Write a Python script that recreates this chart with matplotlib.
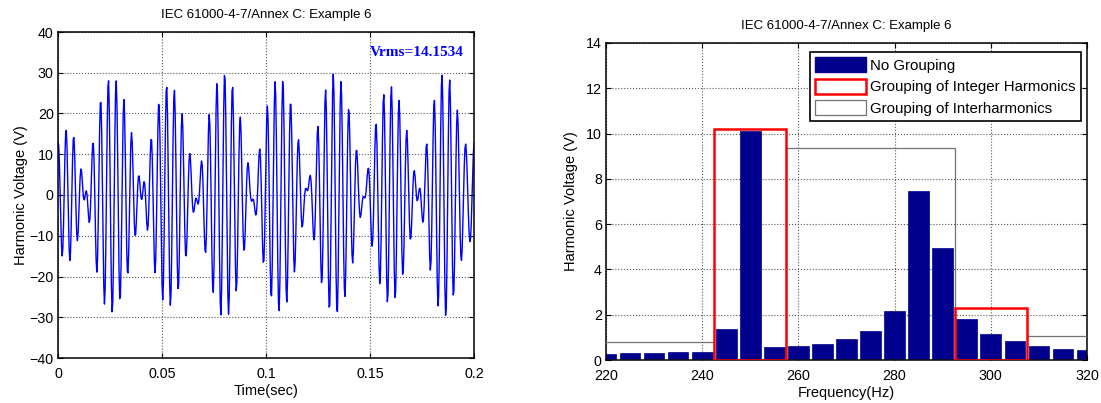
import numpy as np
import matplotlib
matplotlib.use("Agg")
import matplotlib.pyplot as plt
from matplotlib.patches import Rectangle, Patch

# Spectrum of the test signal (5 Hz bins, rms volts)
freq_hz = [220, 225, 230, 235, 240, 245, 250, 255, 260, 265, 270,
           275, 280, 285, 290, 295, 300, 305, 310, 315, 320]
v_rms = [0.25, 0.31, 0.31, 0.37, 0.36, 1.38, 10.11, 0.56, 0.60, 0.71, 0.91,
         1.30, 2.18, 7.46, 4.96, 1.81, 1.13, 0.82, 0.60, 0.50, 0.46]
# Phase of each spectral line (degrees)
phase_deg = [162, 162, 162, 162, 162, 162, 342, 342, 342, 342, 72,
             72, 72, 72, 252, 252, 252, 252, 252, 252, 252]

# Harmonic subgroups (centre frequency, rms value)
harm_center = [250, 300]
harm_value = [10.21, 2.28]
# Interharmonic centred subgroups (lower edge, upper edge, rms value)
ih_low = [207.5, 257.5, 307.5]
ih_high = [242.5, 292.5, 342.5]
ih_value = [0.78, 9.38, 1.07]

vrms_text = "Vrms=14.1534"
title = "IEC 61000-4-7/Annex C: Example 6"

plt.rcParams['font.family'] = ['Liberation Sans', 'DejaVu Sans']
plt.rcParams['font.size'] = 10

W, H = 1101, 403
fig = plt.figure(figsize=(W / 100, H / 100), dpi=100)

def px_axes(l, t, r, b):
    return fig.add_axes([l / W, 1 - b / H, (r - l) / W, (b - t) / H])

def matlab_style(ax):
    ax.tick_params(direction='in', top=True, right=True, length=3.5,
                   width=0.8, labelsize=10.3)
    ax.tick_params(axis='x', pad=6.5)
    ax.tick_params(axis='y', pad=3)
    for s in ax.spines.values():
        s.set_linewidth(1.1)
    ax.grid(True, linestyle=':', color='0.35', linewidth=0.8)
    ax.set_axisbelow(True)

# ---- time-domain waveform synthesised from the spectral lines ----
ax1 = px_axes(58, 32, 474, 358)
fs = 3000.0
t = np.arange(0, 0.2 + 1e-9, 1 / fs)
f = np.asarray(freq_hz, float)[:, None]
amp = np.sqrt(2) * np.asarray(v_rms, float)[:, None]
ph = np.deg2rad(np.asarray(phase_deg, float))[:, None]
u = (amp * np.cos(2 * np.pi * f * t[None, :] + ph)).sum(axis=0)
ax1.plot(t, u, color='#0000FF', linewidth=1.0)
ax1.set_xlim(0, 0.2)
ax1.set_ylim(-40, 40)
ax1.set_xticks([0, 0.05, 0.1, 0.15, 0.2])
ax1.set_xticklabels(['0', '0.05', '0.1', '0.15', '0.2'])
ax1.set_yticks(range(-40, 41, 10))
matlab_style(ax1)
ax1.set_xlabel('Time(sec)', fontsize=10.5, labelpad=2)
ax1.set_ylabel('Harmonic Voltage (V)', fontsize=10.5, labelpad=1)
ax1.set_title(title, fontsize=9.5, pad=10)
ax1.text(0.15, 35, vrms_text, color='#0000FF', fontweight='bold',
         fontsize=11, family='Liberation Serif', va='center', ha='left')

# ---- spectrum with grouping ----
ax2 = px_axes(606, 43, 1087, 360)
navy = '#00008C'
ax2.bar(freq_hz, v_rms, width=4.3, color=navy, edgecolor=navy,
        linewidth=0.5, zorder=2)
for c, v in zip(harm_center, harm_value):
    ax2.add_patch(Rectangle((c - 7.5, 0), 15, v, fill=False,
                            edgecolor='#FF0000', linewidth=1.8, zorder=4))
for lo, hi, v in zip(ih_low, ih_high, ih_value):
    ax2.add_patch(Rectangle((lo, 0), hi - lo, v, fill=False,
                            edgecolor='0.45', linewidth=0.9, zorder=3))
ax2.set_xlim(220, 320)
ax2.set_ylim(0, 14)
ax2.set_xticks(range(220, 321, 20))
ax2.set_yticks(range(0, 15, 2))
matlab_style(ax2)
ax2.set_xlabel('Frequency(Hz)', fontsize=10.5, labelpad=2)
ax2.set_ylabel('Harmonic Voltage (V)', fontsize=10.5, labelpad=6)
ax2.set_title(title, fontsize=9.5, pad=10)

handles = [Patch(facecolor=navy, edgecolor=navy),
           Patch(facecolor='white', edgecolor='#FF0000', linewidth=1.8),
           Patch(facecolor='white', edgecolor='0.45', linewidth=0.9)]
labels = ['No Grouping', 'Grouping of Integer Harmonics',
          'Grouping of Interharmonics']
leg = ax2.legend(handles, labels, loc='upper right', fontsize=10.8,
                 fancybox=False, framealpha=1, edgecolor='black',
                 bbox_to_anchor=(0.988, 0.972),
                 borderaxespad=0.0, handlelength=3.4, handleheight=1.15,
                 handletextpad=0.3, labelspacing=0.4, borderpad=0.35)
leg.get_frame().set_linewidth(1.2)
leg.set_zorder(10)

fig.savefig('out.png', dpi=100)
